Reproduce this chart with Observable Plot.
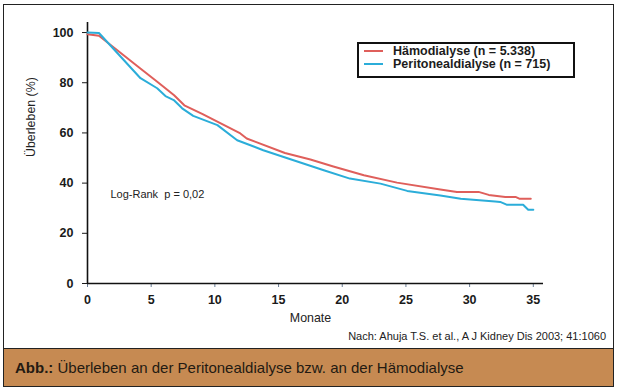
<!DOCTYPE html>
<html>
<head>
<meta charset="utf-8">
<script src="https://cdn.jsdelivr.net/npm/d3@7"></script>
<script src="https://cdn.jsdelivr.net/npm/@observablehq/plot@0.6"></script>
<style>
  html, body { margin: 0; padding: 0; background: #fff; }
  #wrap { position: relative; width: 617px; height: 390px; background: #fff; overflow: hidden;
          font-family: "Liberation Sans", Arial, Helvetica, sans-serif; }
  #frame { position: absolute; left: 3px; top: 4px; width: 611px; height: 383px;
           border: 1.5px solid #222; box-sizing: border-box; }
  #chart { position: absolute; left: 0; top: 0; }
  #legend { position: absolute; left: 357px; top: 42px; width: 218px; height: 36px;
            border: 2px solid #111; box-sizing: border-box; background: #fff; padding-top: 0.5px; }
  .row { display: flex; align-items: center; height: 13px; font-size: 12.5px; font-weight: bold; color: #1c1c1c; }
  .row span.t { display: block; line-height: 13px; height: 13px; white-space: nowrap; }
  .sw { width: 19px; height: 2.5px; margin-left: 5px; margin-right: 10px; }
  #source { position: absolute; right: 11px; top: 330px; font-size: 11px; line-height: 13px; color: #222; }
  #band { position: absolute; left: 3px; top: 348px; width: 611px; height: 39px; box-sizing: border-box;
          background: #c68a52; border: 1.5px solid #222; display: flex; align-items: center;
          padding-left: 11px; font-size: 15px; color: #231a12; }
  #chart g[aria-label="y-axis tick label"], #chart g[aria-label="x-axis tick label"] { font-weight: bold; font-size: 12.5px; fill: #1a1a1a; }
  #chart g[aria-label="x-axis tick"] { stroke: #6a7d96; }
</style>
</head>
<body>
<div id="wrap">
  <div id="frame"></div>
  <div id="chart"></div>
  <div id="legend"></div>
  <div id="source"></div>
  <div id="band"></div>
</div>
<script>
// Series: Hämodialyse
const haemoName = "Hämodialyse (n = 5.338)";
const haemoMonths   = [0, 0.9, 4.0, 5.5, 6.8, 7.6, 9.0, 12.0, 12.5, 15.5, 17.5, 19.3, 21.7, 24.3, 27.7, 29.0, 30.7, 31.5, 32.8, 33.6, 33.9, 34.8];
const haemoSurvival = [99.3, 98.7, 86.3, 80.3, 75.0, 71.0, 67.6, 59.8, 57.8, 52.0, 49.4, 46.6, 43.1, 40.2, 37.5, 36.5, 36.5, 35.3, 34.5, 34.5, 33.8, 33.8];

// Series: Peritonealdialyse
const periName = "Peritonealdialyse (n = 715)";
const periMonths   = [0, 0.9, 4.16, 5.47, 6.12, 6.77, 7.43, 8.3, 10.2, 11.75, 13.8, 15.4, 18.55, 20.6, 23.0, 25.1, 27.7, 29.3, 32.0, 32.4, 32.9, 34.2, 34.6, 35.0];
const periSurvival = [100, 99.8, 81.8, 77.8, 74.7, 73.1, 69.8, 66.8, 63.1, 57.1, 53.1, 50.4, 45.1, 41.8, 39.8, 36.9, 35.1, 33.8, 32.7, 32.5, 31.4, 31.4, 29.4, 29.4];

// Axes
const xTicks = [0, 5, 10, 15, 20, 25, 30, 35];
const yTicks = [0, 20, 40, 60, 80, 100];
const xLabel = "Monate";
const yLabel = "Überleben (%)";

// Texts
const annotation = {text: "Log-Rank  p = 0,02", month: 1.8, value: 35.6};
const sourceText = "Nach: Ahuja T.S. et al., A J Kidney Dis 2003; 41:1060";
const captionBold = "Abb.:";
const captionText = " Überleben an der Peritonealdialyse bzw. an der Hämodialyse";

const colors = {haemo: "#df5f5b", peri: "#2badd9"};

const haemo = haemoMonths.map((m, i) => ({month: m, survival: haemoSurvival[i]}));
const peri = periMonths.map((m, i) => ({month: m, survival: periSurvival[i]}));

const xMax = 35.8, yMax = 104;

const chart = Plot.plot({
  width: 617,
  height: 330,
  marginLeft: 87,
  marginRight: 74,
  marginTop: 22,
  marginBottom: 47,
  x: {domain: [0, xMax]},
  y: {domain: [0, yMax]},
  style: {fontFamily: '"Liberation Sans", Arial, sans-serif', background: "transparent", color: "#1a1a1a", overflow: "visible"},
  marks: [
    Plot.axisY({ticks: yTicks, tickSize: 5, tickPadding: 9, label: null}),
    Plot.axisX({ticks: xTicks, tickSize: 4, tickPadding: 8, label: null}),
    Plot.text([yLabel], {frameAnchor: "left", rotate: -90, dx: -56, dy: 4, fontSize: 12.4, fill: "#222", lineAnchor: "middle"}),
    Plot.text([xLabel], {frameAnchor: "bottom", dx: -5, dy: 35, fontSize: 12.4, fill: "#222", lineAnchor: "middle"}),
    Plot.ruleX([0], {y1: 0, y2: yMax, stroke: "#111", strokeWidth: 1.6}),
    Plot.ruleY([0], {x1: 0, x2: xMax, stroke: "#111", strokeWidth: 1.6}),
    Plot.line(haemo, {x: "month", y: "survival", stroke: colors.haemo, strokeWidth: 2}),
    Plot.line(peri, {x: "month", y: "survival", stroke: colors.peri, strokeWidth: 2}),
    Plot.text([annotation], {x: "month", y: "value", text: "text", textAnchor: "start", fontSize: 11, fill: "#222"})
  ]
});
document.getElementById("chart").appendChild(chart);

// Legend
const legend = document.getElementById("legend");
[[haemoName, colors.haemo], [periName, colors.peri]].forEach(([name, c]) => {
  const row = document.createElement("div");
  row.className = "row";
  const sw = document.createElement("span");
  sw.className = "sw";
  sw.style.background = c;
  const t = document.createElement("span");
  t.className = "t";
  t.textContent = name;
  row.appendChild(sw); row.appendChild(t);
  legend.appendChild(row);
});

document.getElementById("source").textContent = sourceText;
const band = document.getElementById("band");
const b = document.createElement("b");
b.textContent = captionBold;
band.appendChild(b);
const span = document.createElement("span");
span.innerHTML = "&nbsp;" + captionText.trim();
band.appendChild(span);
</script>
</body>
</html>
